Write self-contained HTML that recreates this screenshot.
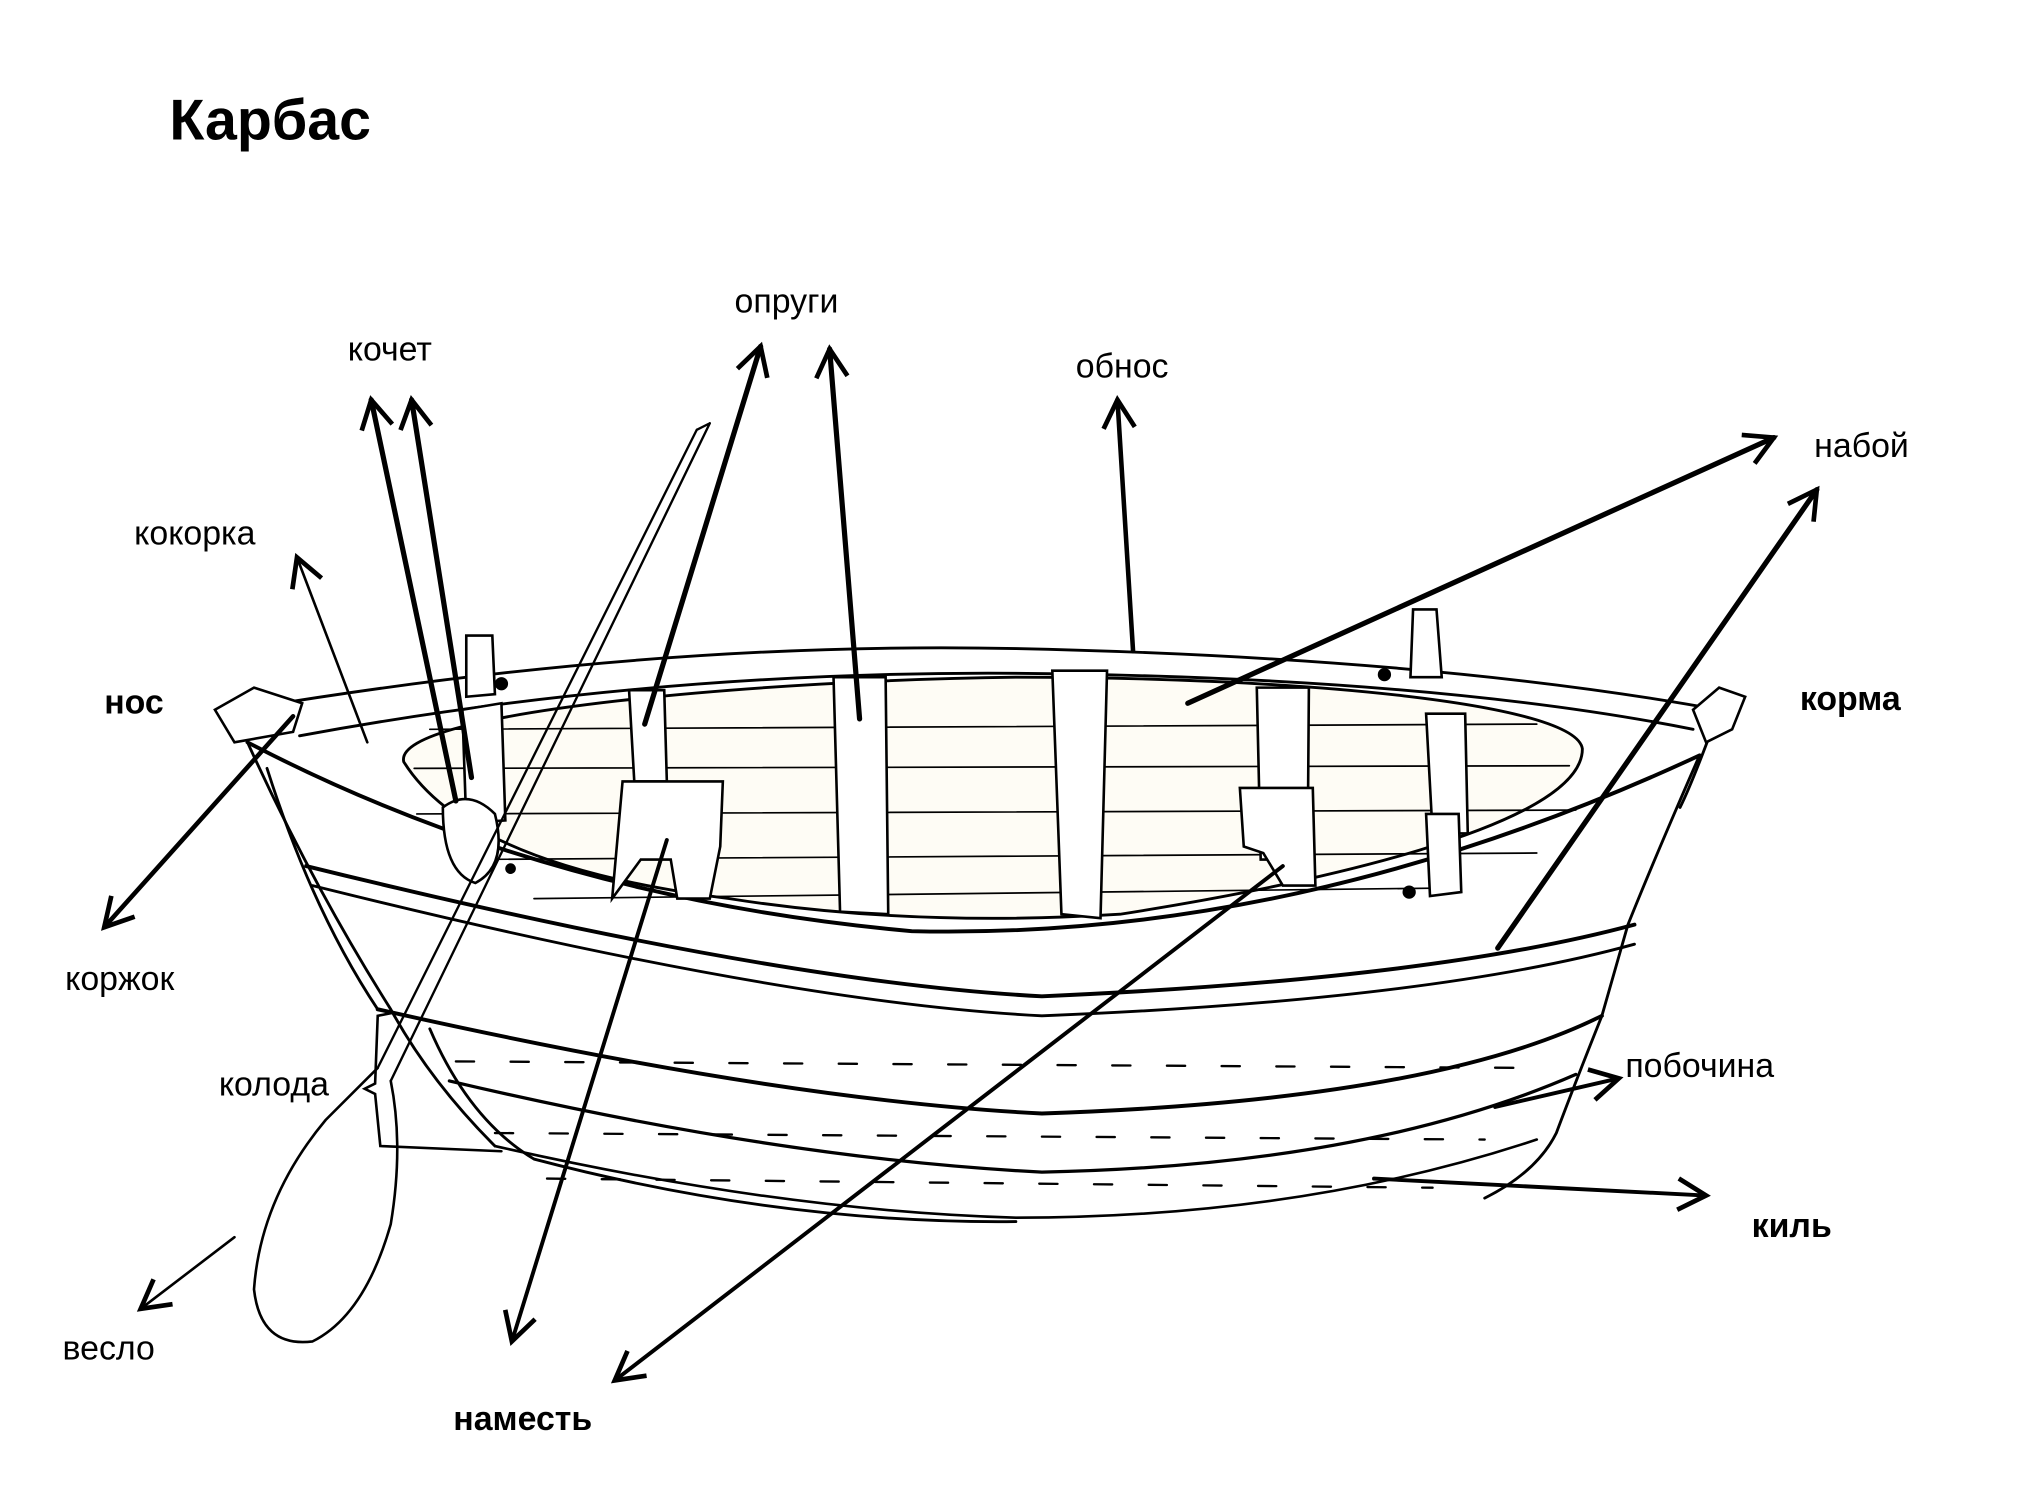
<!DOCTYPE html>
<html><head><meta charset="utf-8"><style>
html,body{margin:0;padding:0;background:#fff;}
svg{display:block;}
text{font-family:"Liberation Sans","DejaVu Sans",sans-serif;fill:#000;}
</style></head><body>
<svg width="2020" height="1512" viewBox="0 0 1551 1161" xmlns="http://www.w3.org/2000/svg">
<defs>
<marker id="a" viewBox="0 0 20 20" refX="18" refY="10" markerWidth="8" markerHeight="8" orient="auto" markerUnits="userSpaceOnUse" style="overflow:visible">
<path d="M0,0 L18,10 L0,20" fill="none" stroke="#000" stroke-width="3"/>
</marker>
<marker id="b" viewBox="0 0 20 20" refX="18" refY="10" markerWidth="24" markerHeight="24" orient="auto" markerUnits="userSpaceOnUse" style="overflow:visible">
<path d="M0,0 L18,10 L0,20" fill="none" stroke="#000" stroke-width="3"/>
</marker>
</defs>
<rect width="1551" height="1161" fill="#fff"/>
<text x="130" y="107" font-size="44" font-weight="bold">Карбас</text>
<g font-size="26">
<text x="267" y="277">кочет</text>
<text x="564" y="240">опруги</text>
<text x="826" y="290">обнос</text>
<text x="1393" y="351">набой</text>
<text x="103" y="418">кокорка</text>
<text x="50" y="760">коржок</text>
<text x="168" y="841">колода</text>
<text x="1248" y="827">побочина</text>
<text x="48" y="1044">весло</text>
</g>
<g font-size="26" font-weight="bold">
<text x="80" y="548">нос</text>
<text x="1382" y="545">корма</text>
<text x="1345" y="950">киль</text>
<text x="348" y="1098">наместь</text>
</g>

<g fill="none" stroke="#000" stroke-width="2.2" stroke-linecap="round">
<!-- inner floor -->
<path d="M310,585 C300,545 600,522 780,520 C1000,520 1210,540 1215,575 C1215,635 1000,680 860,702 Q700,712 560,690 Q360,665 310,585 Z" fill="#fefcf5"/>
<g stroke-width="1.3">
<path d="M330,560 L1180,556"/><path d="M318,590 L1205,588"/><path d="M320,625 L1210,622"/><path d="M350,660 L1180,655"/><path d="M410,690 L1100,682"/>
</g>
<!-- rim -->
<path d="M185,545 Q500,492 780,498 Q1100,505 1320,545"/>
<path d="M230,565 Q500,515 780,517 Q1100,520 1300,560"/>
<!-- sheer -->
<path d="M190,570 Q420,690 700,715 Q1000,722 1305,580" stroke-width="3"/>
<path d="M235,665 Q600,755 800,765 Q1100,752 1255,710" stroke-width="3"/>
<path d="M240,680 Q600,770 800,780 Q1100,768 1255,725"/>
<path d="M290,775 Q600,845 800,855 Q1100,845 1230,780" stroke-width="3"/>
<path d="M345,830 Q600,890 800,900 Q1050,895 1210,825" stroke-width="2.5"/>
<path d="M380,880 Q600,930 780,935 Q1000,935 1180,875" stroke-width="2"/>
<path d="M330,790 Q360,860 410,890 Q600,940 780,938"/>
<!-- bow/stern sides -->
<path d="M190,570 Q240,680 300,775 Q330,830 380,880"/>
<path d="M205,590 Q240,700 290,775"/>
<path d="M1305,580 Q1270,660 1250,710 L1230,780 Q1210,830 1195,870 Q1180,900 1140,920"/>
<path d="M1320,545 Q1300,600 1290,620"/>
<!-- dashes -->
<path d="M350,815 L1170,820" stroke-dasharray="14 28" stroke-width="1.8"/>
<path d="M380,870 L1140,875" stroke-dasharray="14 28" stroke-width="1.8"/>
<path d="M420,905 L1100,912" stroke-dasharray="14 28" stroke-width="1.8"/>
<!-- ribs -->
<g fill="#fff" stroke-width="2">
<path d="M640,520 L680,520 L682,702 L645,700 Z"/>
<path d="M808,515 L850,515 L845,705 L815,702 Z"/>
<path d="M965,528 L1005,528 L1004,660 L968,660 Z"/>
<path d="M483,530 L510,530 L512,600 L487,600 Z"/>
<path d="M1095,548 L1125,548 L1127,640 L1100,640 Z"/>
<path d="M355,545 L385,540 L388,630 L358,632 Z"/>
<path d="M478,600 L555,600 L553,650 L545,690 L520,690 L515,660 L492,660 L470,690 Z"/>
<path d="M952,605 L1008,605 L1010,680 L985,680 L970,655 L955,650 Z"/>
<path d="M1095,625 L1120,625 L1122,685 L1098,688 Z"/>
<path d="M358,488 L378,488 L380,533 L358,535 Z"/>
<path d="M1085,468 L1103,468 L1107,520 L1083,520 Z"/>
<path d="M165,545 L195,528 L232,540 L225,562 L180,570 Z"/>
<path d="M1300,545 L1320,528 L1340,535 L1330,560 L1310,570 Z"/>
<path d="M340,620 Q360,605 380,625 Q390,665 365,678 Q340,670 340,620 Z"/>
</g>
<circle cx="385" cy="525" r="4" fill="#000"/><circle cx="1063" cy="518" r="4" fill="#000"/><circle cx="1082" cy="685" r="4" fill="#000"/><circle cx="392" cy="667" r="3" fill="#000"/>
<!-- oar -->
<path d="M545,325 L300,830 M535,330 L290,820 M545,325 L535,330" stroke-width="1.8"/>
<path d="M300,830 Q310,880 300,940 Q280,1010 240,1030 Q200,1035 195,990 Q200,920 250,860 Q275,835 290,820" stroke-width="2"/>
<!-- колода bracket -->
<path d="M300,778 L290,780 L288,832 L280,836 L288,840 L292,880 L385,884" stroke-width="2"/>
</g>

<!-- arrows -->
<g fill="none" stroke="#000" stroke-linecap="round">
<path d="M350,615 L285,307" stroke-width="4" marker-end="url(#b)"/>
<path d="M362,597 L316,307" stroke-width="4" marker-end="url(#b)"/>
<path d="M495,556 L584,266" stroke-width="4" marker-end="url(#b)"/>
<path d="M660,552 L637,268" stroke-width="4" marker-end="url(#b)"/>
<path d="M870,500 L858,307" stroke-width="3.5" marker-end="url(#b)"/>
<path d="M912,540 L1362,336" stroke-width="4" marker-end="url(#b)"/>
<path d="M1150,728 L1395,376" stroke-width="4" marker-end="url(#b)"/>
<path d="M282,570 L228,428" stroke-width="2" marker-end="url(#b)"/>
<path d="M225,550 L80,712" stroke-width="3.5" marker-end="url(#b)"/>
<path d="M512,645 L393,1030" stroke-width="3" marker-end="url(#b)"/>
<path d="M985,665 L472,1060" stroke-width="3" marker-end="url(#b)"/>
<path d="M1148,850 L1243,828" stroke-width="3" marker-end="url(#b)"/>
<path d="M1055,905 L1310,918" stroke-width="3" marker-end="url(#b)"/>
<path d="M180,950 L108,1005" stroke-width="2" marker-end="url(#b)"/>
</g>
</svg>
</body></html>
